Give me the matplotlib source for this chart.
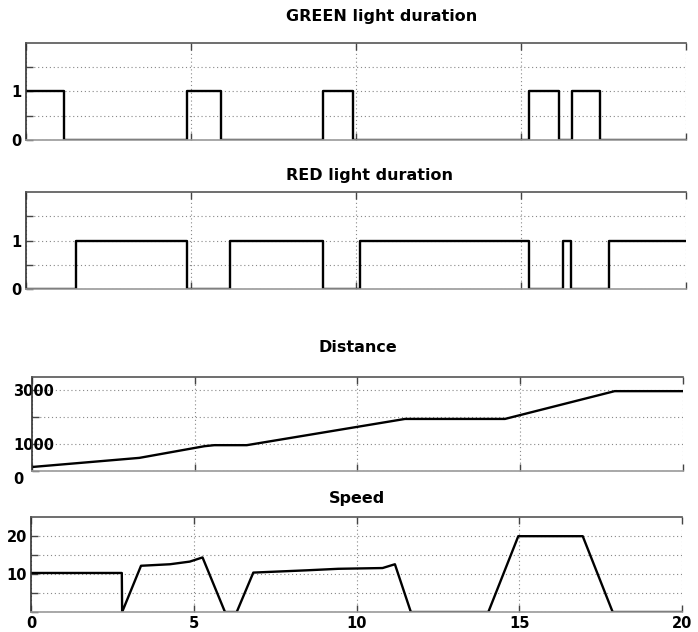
import matplotlib.pyplot as plt
from matplotlib.transforms import ScaledTranslation

# light states (step changes)
green_t = [0, 1.15, 4.89, 5.9, 8.99, 9.9, 15.25, 16.13, 16.55, 17.39, 20]
green_v = [1, 0, 1, 0, 1, 0, 1, 0, 1, 0, 0]

red_t = [0, 1.52, 4.87, 6.18, 8.99, 10.12, 15.25, 16.28, 16.5, 17.65, 20]
red_v = [0, 1, 0, 1, 0, 1, 0, 1, 0, 1, 1]

dist_t = [0, 3.3, 5.3, 5.6, 6.6, 11.46, 14.53, 17.9, 20]
dist_v = [150, 490, 925, 963, 963, 1940, 1940, 2975, 2975]

speed_t = [0, 2.79, 2.8, 3.38, 4.27, 4.88, 5.27, 5.96, 6.32, 6.83, 7.65,
           8.47, 9.44, 10.8, 11.18, 11.67, 14.05, 14.97, 16.95, 17.87, 20]
speed_v = [10.3, 10.3, 0, 12.2, 12.6, 13.3, 14.4, 0, 0, 10.4, 10.7,
           11.0, 11.4, 11.6, 12.6, 0, 0, 20, 20, 0, 0]

x_ticks = [0, 5, 10, 15, 20]

plt.rcParams['font.family'] = ['DejaVu Sans']
plt.rcParams['font.weight'] = 'bold'

fig = plt.figure(figsize=(6.98, 6.32), dpi=100)


def style_axes(ax, title, title_pad, title_x, yticks, ylabels, ylim, show_x=False):
    ax.set_xlim(0, 20)
    ax.set_ylim(*ylim)
    ax.set_xticks(x_ticks)
    if show_x:
        ax.set_xticklabels([str(v) for v in x_ticks], fontsize=10.5, fontweight='bold')
    else:
        ax.set_xticklabels([])
    ax.set_yticks(yticks)
    ax.set_yticklabels(ylabels, fontsize=10.5, fontweight='bold')
    ax.tick_params(direction='in', length=5, width=1, color='#444444',
                   top=True, bottom=True, left=True, right=False, pad=3)
    ax.grid(True, linestyle=(0, (1, 2.5)), color='#888888', linewidth=0.8)
    ax.spines['right'].set_visible(False)
    ax.spines['top'].set_color('#555555')
    ax.spines['left'].set_color('#333333')
    ax.spines['bottom'].set_color('#999999')
    for s in ['top', 'left', 'bottom']:
        ax.spines[s].set_linewidth(1.2)
    ax.set_title(title, fontsize=11.5, fontweight='bold', pad=title_pad, x=title_x)


ax1 = fig.add_axes([0.0372, 0.7785, 0.946, 0.1535])
ax1.plot(green_t, green_v, color='black', linewidth=1.7, drawstyle='steps-post')
style_axes(ax1, 'GREEN light duration', 16, 0.539, [0, 0.5, 1, 1.5], ['0', '', '1', ''], (0, 2))

ax2 = fig.add_axes([0.0372, 0.5427, 0.946, 0.1535])
ax2.plot(red_t, red_v, color='black', linewidth=1.7, drawstyle='steps-post')
style_axes(ax2, 'RED light duration', 8.5, 0.521, [0, 0.5, 1, 1.5], ['0', '', '1', ''], (0, 2))

ax3 = fig.add_axes([0.0458, 0.2547, 0.9327, 0.1487])
ax3.plot(dist_t, dist_v, color='black', linewidth=1.7)
style_axes(ax3, 'Distance', 18, 0.5, [0, 1000, 2000, 3000], ['0', '1000', '', '3000'], (0, 3500))
# the big labels sit over the axis line in the original
for lab in ax3.get_yticklabels():
    if lab.get_text() in ('1000', '3000'):
        lab.set_horizontalalignment('center')
        lab.set_transform(lab.get_transform() + ScaledTranslation(4 / 72, 0, fig.dpi_scale_trans))
    elif lab.get_text() == '0':
        lab.set_transform(lab.get_transform() + ScaledTranslation(-3 / 72, -5 / 72, fig.dpi_scale_trans))

ax4 = fig.add_axes([0.0444, 0.0316, 0.9327, 0.150])
ax4.plot(speed_t, speed_v, color='black', linewidth=1.7)
style_axes(ax4, 'Speed', 10, 0.5, [0, 5, 10, 15, 20], ['', '', '10', '', '20'], (0, 25), show_x=True)

fig.savefig('out.png', dpi=100)
